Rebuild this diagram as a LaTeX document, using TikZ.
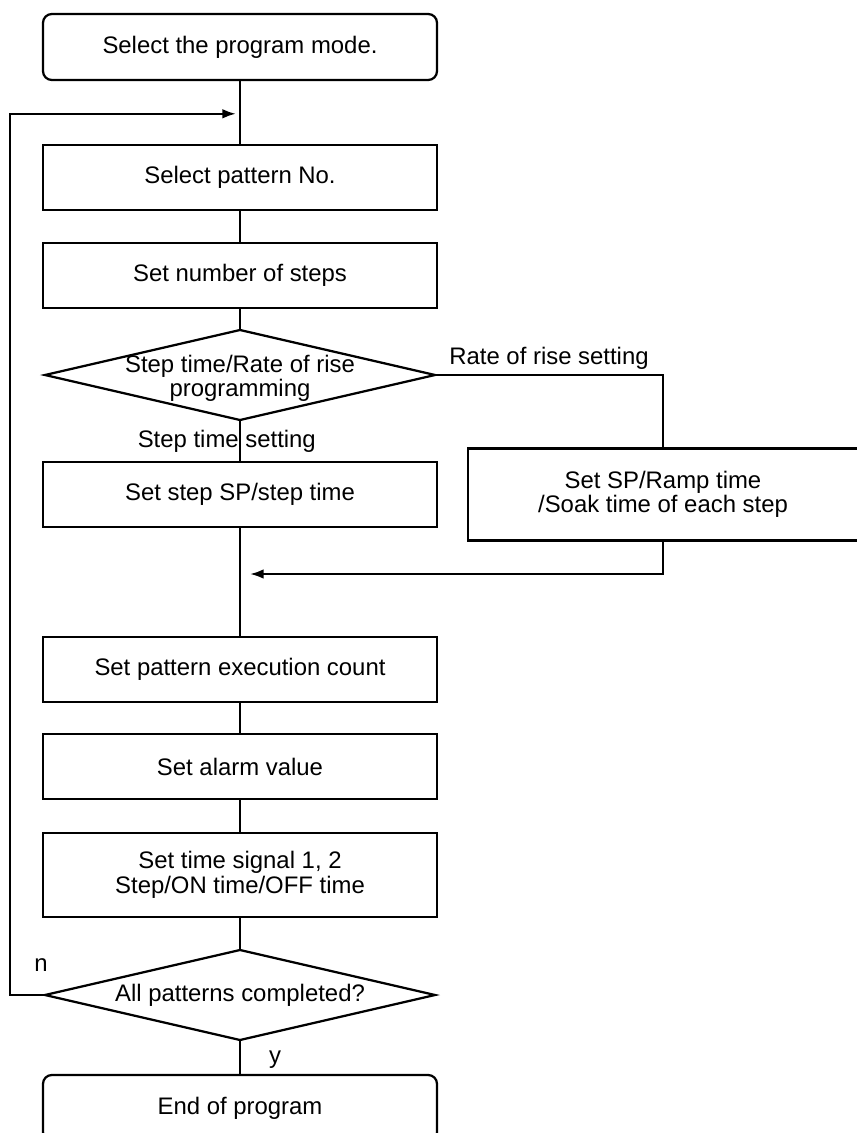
\documentclass[tikz,border=0pt]{standalone}
\usepackage{fontspec}
\setmainfont{Liberation Sans}
\usetikzlibrary{arrows.meta,positioning,shapes.geometric,calc}

\begin{document}
\begin{tikzpicture}[font=\fontsize{17pt}{17.5pt}\selectfont,line width=1.6pt,
  procbox/.style={draw,minimum width=9.85cm,minimum height=1.625cm,align=center,inner sep=2pt,outer sep=0pt},
  termbox/.style={procbox,rounded corners=0.22cm,minimum height=1.65cm},
  decision/.style={draw,diamond,minimum width=9.75cm,minimum height=2.25cm,inner sep=0pt,outer sep=0pt},
  arr/.style={-{Latex[length=3.4mm,width=2.4mm]}}]
\useasboundingbox (0,0) rectangle (21.425,-28.325);
\node[termbox] (start) at (6,-1.175) {Select the program mode.};
\node[procbox,below=1.625cm of start] (pattern) {Select pattern No.};
\node[procbox,below=0.825cm of pattern] (steps) {Set number of steps};
\node[decision,below=0.55cm of steps] (mode) {};
\node[align=center] (modetext) at ([yshift=-0.08cm]mode.center) {Step time/Rate of rise\\programming};
\node[procbox,below=1.05cm of mode] (stepsp) {Set step SP/step time};
\node[procbox,minimum width=9.75cm,minimum height=2.3cm,right=0.775cm of stepsp] (ramp) {Set SP/Ramp time\\/Soak time of each step};
\node[procbox,below=2.75cm of stepsp] (count) {Set pattern execution count};
\node[procbox,below=0.8cm of count] (alarm) {Set alarm value};
\node[procbox,minimum height=2.1cm,below=0.85cm of alarm] (signal) {Set time signal 1, 2\\Step/ON time/OFF time};
\node[decision,below=0.825cm of signal] (done) {};
\node (donetext) at (done.center) {All patterns completed?};
\node[termbox,below=0.875cm of done] (finish) {End of program};

\coordinate (loopin) at ($(start.south)!0.52!(pattern.north)$);
\coordinate (merge) at ([yshift=-1.175cm]stepsp.south);

% main flow
\draw (start) -- (pattern);
\draw (pattern) -- (steps);
\draw (steps) -- (mode);
\draw (mode) -- (stepsp);
\draw (stepsp) -- (count);
\draw (count) -- (alarm);
\draw (alarm) -- (signal);
\draw (signal) -- (done);
\draw (done) -- (finish);

% branches
\draw (mode.east) -| (ramp.north) node[pos=0.25,above] {Rate of rise setting};
\draw[arr,shorten >=0.25cm] (ramp.south) |- (merge);
\draw[arr,shorten >=0.1cm] (done.west) -- ++(-0.875,0) |- (loopin);

% labels
\node[anchor=base] (steplbl) at ([xshift=-0.33cm,yshift=-0.675cm]mode.south) {Step time setting};
\node[anchor=base] (nlbl) at ([xshift=-0.1cm,yshift=0.6cm]done.west) {n};
\node[anchor=base] (ylbl) at ([xshift=0.875cm,yshift=-0.575cm]done.south) {y};
\end{tikzpicture}
\end{document}
